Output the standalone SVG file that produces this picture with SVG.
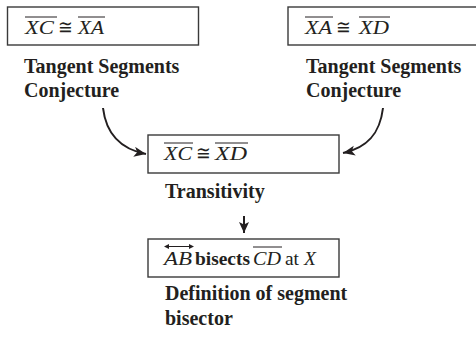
<svg xmlns="http://www.w3.org/2000/svg" width="476" height="337" viewBox="0 0 476 337">
<defs>
<style>
.box{fill:#fff;stroke:#3a3a3a;stroke-width:1.4}
.m{font-family:"Liberation Serif","DejaVu Serif",serif;font-size:19.5px;fill:#231f20}
.i{font-style:italic}
.lbl{font-family:"Liberation Serif","DejaVu Serif",serif;font-size:20px;font-weight:bold;fill:#231f20}
.ov{stroke:#231f20;stroke-width:1}
.con{fill:none;stroke:#231f20;stroke-width:2}
</style>
<marker id="ah" markerUnits="userSpaceOnUse" markerWidth="14" markerHeight="12" refX="12" refY="5" orient="auto">
<path d="M0,0 L12,5 L0,10 L3,5 z" fill="#231f20"/>
</marker>
<marker id="ah2" markerUnits="userSpaceOnUse" markerWidth="14" markerHeight="12" refX="11" refY="5" orient="auto">
<path d="M0,0 L11,5 L0,10 L2.5,5 z" fill="#231f20"/>
</marker>
</defs>
<rect width="476" height="337" fill="#fff"/>

<g id="n1">
<rect class="box" x="7.5" y="7" width="191" height="38"/>
<text class="m i" x="25" y="34" textLength="29" lengthAdjust="spacingAndGlyphs">XC</text>
<text class="m" x="58" y="34" textLength="15" lengthAdjust="spacingAndGlyphs">≅</text>
<text class="m i" x="78" y="34" textLength="26" lengthAdjust="spacingAndGlyphs">XA</text>
<line class="ov" x1="25" y1="17" x2="57" y2="17"/>
<line class="ov" x1="78" y1="17" x2="105" y2="17"/>
<text class="lbl" x="24" y="73">Tangent Segments</text>
<text class="lbl" x="24" y="97">Conjecture</text>
</g>

<g id="n2">
<rect class="box" x="288" y="7" width="200" height="38"/>
<text class="m i" x="305" y="34" textLength="27" lengthAdjust="spacingAndGlyphs">XA</text>
<text class="m" x="336" y="34" textLength="15" lengthAdjust="spacingAndGlyphs">≅</text>
<text class="m i" x="359" y="34" textLength="30" lengthAdjust="spacingAndGlyphs">XD</text>
<line class="ov" x1="305" y1="17" x2="333" y2="17"/>
<line class="ov" x1="359" y1="17" x2="390" y2="17"/>
<text class="lbl" x="306" y="73">Tangent Segments</text>
<text class="lbl" x="306" y="97">Conjecture</text>
</g>

<g id="n3">
<rect class="box" x="148" y="135" width="191" height="38"/>
<text class="m i" x="164" y="160" textLength="28" lengthAdjust="spacingAndGlyphs">XC</text>
<text class="m" x="196" y="160" textLength="15" lengthAdjust="spacingAndGlyphs">≅</text>
<text class="m i" x="215" y="160" textLength="32" lengthAdjust="spacingAndGlyphs">XD</text>
<line class="ov" x1="164" y1="143" x2="193" y2="143"/>
<line class="ov" x1="215" y1="143" x2="248" y2="143"/>
<text class="lbl" x="165" y="198">Transitivity</text>
</g>

<g id="n4">
<rect class="box" x="148" y="239" width="191" height="38"/>
<text class="m i" x="164" y="265" textLength="28" lengthAdjust="spacingAndGlyphs">AB</text>
<text class="m" x="195" y="265" font-weight="bold" textLength="55" lengthAdjust="spacingAndGlyphs">bisects</text>
<text class="m i" x="253" y="265" textLength="28" lengthAdjust="spacingAndGlyphs">CD</text>
<text class="m" x="285" y="265" textLength="14" lengthAdjust="spacingAndGlyphs">at</text>
<text class="m i" x="304" y="265" font-size="20">X</text>
<line class="ov" x1="167" y1="246.5" x2="191" y2="246.5"/>
<path d="M164,246.5 L169,244 L169,249 z M194,246.5 L189,244 L189,249 z" fill="#231f20"/>
<line class="ov" x1="253" y1="247" x2="282" y2="247"/>
<text class="lbl" x="165" y="300">Definition of segment</text>
<text class="lbl" x="165" y="325">bisector</text>
</g>

<g id="connectors">
<path class="con" d="M103,108 C106,133 120,149 146,154" marker-end="url(#ah)"/>
<path class="con" d="M383,108 C380,133 368,148 343,153" marker-end="url(#ah)"/>
<line class="con" x1="244" y1="216" x2="244" y2="233" marker-end="url(#ah2)"/>
</g>
</svg>
